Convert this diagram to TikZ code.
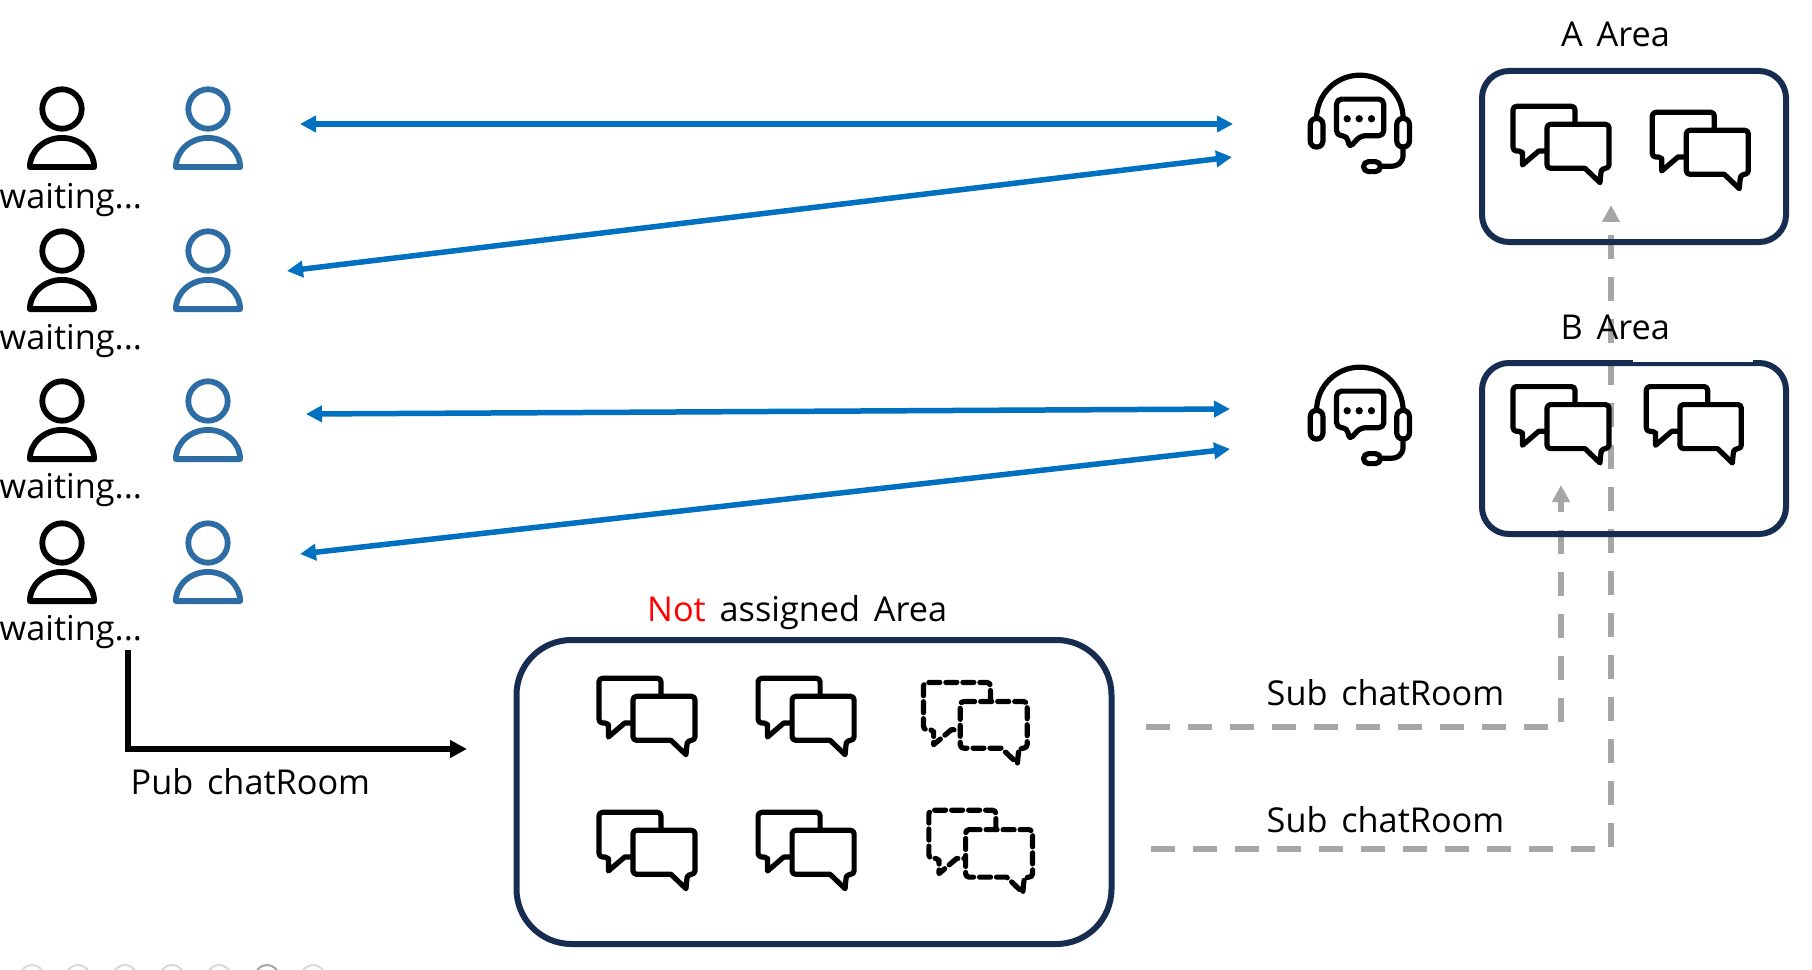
\documentclass[tikz,border=0pt]{standalone}
\usepackage{fontspec}
\setmainfont{Open Sans}[WordSpace=1.55]
\usetikzlibrary{arrows.meta}
\definecolor{areablue}{HTML}{172C51}
\definecolor{laneblue}{HTML}{0070C0}
\definecolor{userblue}{HTML}{2E6CA4}
\definecolor{subgray}{HTML}{A6A6A6}
\tikzset{
    areabox/.style = {rectangle, draw=areablue, line width=.06cm, rounded corners=.27cm},
    areatext/.style = {anchor=base west, inner sep=0pt, font=\fontsize{9.75}{12}\selectfont},
    iconline/.style = {line width=.052cm, line join=round, line cap=round},
    userline/.style = {line width=.058cm, line join=round},
    edgelane/.style = {{Triangle[length=.16cm,width=.16cm]}-{Triangle[length=.16cm,width=.16cm]},line width=.055cm,laneblue},
    edgepub/.style = {-{Triangle[length=.17cm,width=.17cm]},line width=.055cm,black},
    edgesub/.style = {-{Triangle[length=.17cm,width=.17cm]},line width=.06cm,subgray,dash pattern=on .24cm off .18cm},
    chatdash/.style = {dash pattern=on .11cm off .06cm},
    user/.pic = {
        \draw[userline] (0,0) circle (.197);
        \draw[userline] (-.321,-.581) arc[start angle=180,end angle=0,x radius=.321,y radius=.292] -- cycle;
    },
    chat/.pic = {
        \draw[iconline,rounded corners=.035cm] (.643,-.203) -- (.643,-.023) -- (.023,-.023) -- (.023,-.47) -- (.117,-.47) -- (.117,-.52) [sharp corners] -- (.117,-.61) -- (.28,-.47) [rounded corners=.035cm] -- (.36,-.47);
        \draw[iconline,rounded corners=.035cm] (.363,-.203) -- (.983,-.203) -- (.983,-.643) -- (.91,-.643) -- (.9,-.7) [sharp corners] -- (.893,-.787) -- (.743,-.643) [rounded corners=.035cm] -- (.363,-.643) -- cycle;
    },
    agent/.pic = {
        \begin{scope}[x=.00333cm,y=-.00333cm]
        \draw[iconline] (80,356) arc[start angle=180,end angle=360,x radius=130,y radius=130];
        \draw[iconline,rounded corners=.06cm] (61,356) rectangle (99,442);
        \draw[iconline,rounded corners=.06cm] (321,356) rectangle (359,442);
        \draw[iconline] (340,442) -- (340,465) .. controls (340,490) and (322,500) .. (305,500) -- (272,500);
        \draw[iconline,rounded corners=.05cm] (221,486) rectangle (272,516);
        \draw[iconline,rounded corners=.05cm] (140,298) -- (282,298) -- (282,408) -- (212,408) -- (178,445) -- (172,408) -- (140,408) -- cycle;
        \foreach \dotx in {172,208,245} \fill (\dotx,357) circle (11);
        \end{scope}
    }
}

\begin{document}
\begin{tikzpicture}
\clip (0,0) rectangle (18.12,9.69);
\fill[white] (0,0) rectangle (18.12,9.69);
%
\foreach \navx in {.32,.78,1.25,1.72,2.19,3.13} \draw[gray!30,line width=.02cm] (\navx,-.08) circle (.12);
\draw[gray!70,line width=.02cm] (2.67,-.08) circle (.12);
%
\foreach \rowid/\rowy/\waity in {a/8.60/7.60,b/7.18/6.19,c/5.68/4.71,d/4.26/3.29} {
    \pic (waituser\rowid) at (.62,\rowy) {user};
    \pic[color=userblue] (talkuser\rowid) at (2.08,\rowy) {user};
    \node[areatext] (wait\rowid) at (-.01,\waity) {waiting...};
}
%
\coordinate (lanealeft) at (3.00,8.45);
\coordinate (lanearight) at (12.33,8.45);
\coordinate (laneblift) at (2.87,6.98);
\coordinate (lanebright) at (12.32,8.12);
\coordinate (laneclift) at (3.06,5.55);
\coordinate (lanecright) at (12.30,5.60);
\coordinate (lanedleft) at (3.00,4.15);
\coordinate (lanedright) at (12.30,5.20);
\draw[edgelane] (lanealeft) -- (lanearight);
\draw[edgelane] (laneblift) -- (lanebright);
\draw[edgelane] (laneclift) -- (lanecright);
\draw[edgelane] (lanedleft) -- (lanedright);
%
\pic (agenta) at (12.90,9.69) {agent};
\pic (agentb) at (12.90,6.77) {agent};
%
\coordinate (subastart) at (11.46,2.423);
\coordinate (subaend) at (15.61,4.84);
\coordinate (subbstart) at (11.51,1.20);
\coordinate (subbend) at (16.11,7.64);
\draw[edgesub] (subastart) -| (subaend);
\draw[edgesub] (subbstart) -| (subbend);
%
\node[areabox,minimum width=3.04cm,minimum height=1.71cm] (areaa) at (16.34,8.125) {};
\node[areabox,minimum width=3.04cm,minimum height=1.71cm] (areab) at (16.34,5.205) {};
\node[areabox,rounded corners=.55cm,minimum width=5.95cm,minimum height=3.04cm] (areamain) at (8.14,1.77) {};
\fill[white] (16.33,6.07) rectangle (17.53,6.09);
%
\node[areatext] (titlea) at (15.605,9.223) {A Area};
\node[areatext] (titleb) at (15.60,6.30) {B Area};
\node[areatext] (titlemain) at (6.465,3.48) {\textcolor{red}{Not} assigned Area};
\node[areatext] (labelsuba) at (12.66,2.633) {Sub chatRoom};
\node[areatext] (labelsubb) at (12.66,1.363) {Sub chatRoom};
\node[areatext] (labelpub) at (1.30,1.75) {Pub chatRoom};
%
\pic (chataa) at (15.107,8.65) {chat};
\pic (chatab) at (16.50,8.59) {chat};
\pic (chatba) at (15.107,5.847) {chat};
\pic[xscale=.99] (chatbb) at (16.44,5.847) {chat};
\pic (chatma) at (5.967,2.93) {chat};
\pic (chatmb) at (7.558,2.93) {chat};
\pic (chatmc) at (5.967,1.59) {chat};
\pic (chatmd) at (7.558,1.59) {chat};
\pic[chatdash,xscale=1.08,yscale=1.06] (chatme) at (9.21,2.89) {chat};
\pic[chatdash,xscale=1.08,yscale=1.08] (chatmf) at (9.264,1.613) {chat};
%
\coordinate (pubstart) at (1.28,3.19);
\coordinate (pubend) at (4.67,2.20);
\draw[edgepub] (pubstart) |- (pubend);
\end{tikzpicture}
\end{document}
